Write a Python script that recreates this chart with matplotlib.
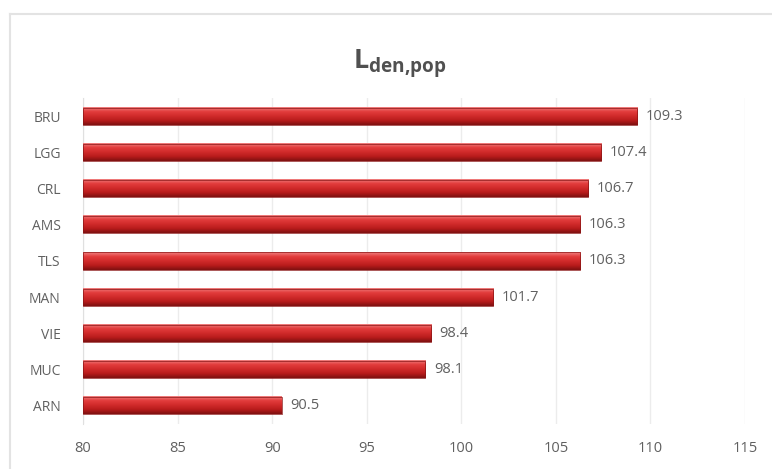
import matplotlib.pyplot as plt
import numpy as np
from matplotlib.colors import LinearSegmentedColormap
from matplotlib.patches import Rectangle

airports = ["BRU", "LGG", "CRL", "AMS", "TLS", "MAN", "VIE", "MUC", "ARN"]
values = [109.3, 107.4, 106.7, 106.3, 106.3, 101.7, 98.4, 98.1, 90.5]
xticks = [80, 85, 90, 95, 100, 105, 110, 115]

plt.rcParams["font.family"] = ["Open Sans", "DejaVu Sans"]
plt.rcParams["mathtext.fontset"] = "custom"
plt.rcParams["mathtext.bf"] = "Open Sans:bold"
text_gray = "#606060"

fig = plt.figure(figsize=(7.72, 4.69), dpi=100)
ax = fig.add_axes([0.1075, 0.096, 0.8575, 0.695])

# chart border (only top and left visible in the crop)
fig.add_artist(plt.Line2D([0.013, 1.0], [0.970, 0.970], transform=fig.transFigure,
                          color="#e3e3e3", lw=1.5))
fig.add_artist(plt.Line2D([0.013, 0.013], [0.0, 0.970], transform=fig.transFigure,
                          color="#e3e3e3", lw=1.5))

# vertical gradient for the cylinder look: light top, dark bottom
cmap = LinearSegmentedColormap.from_list(
    "bar", ["#f08080", "#e23c3c", "#d02a2a", "#b81c1c", "#7e1010"])
grad = np.linspace(0, 1, 64).reshape(-1, 1)

ypos = np.arange(len(airports))
h = 0.47
for y, v in zip(ypos, values):
    ax.imshow(grad, cmap=cmap, aspect="auto", extent=(80, v, y + h / 2, y - h / 2),
              interpolation="bilinear", zorder=3)
    ax.add_patch(Rectangle((80, y - h / 2), v - 80, h, fill=False,
                           edgecolor="#8a1515", lw=0.5, zorder=4))
    ax.text(v + 0.45, y, f"{v:.1f}", va="center", ha="left", fontsize=10.5,
            color=text_gray)

ax.set_xlim(80, 115)
ax.set_ylim(len(airports) - 0.5, -0.5)
ax.set_xticks(xticks)
ax.set_xticklabels([str(t) for t in xticks], fontsize=10.5, color=text_gray)
ax.set_yticks(ypos)
ax.set_yticklabels(airports, fontsize=10, color=text_gray)
ax.tick_params(length=0, pad=12)
ax.tick_params(axis="y", pad=16)
ax.grid(axis="x", color="#ececec", lw=1, zorder=0)
ax.set_axisbelow(True)
for s in ["top", "right", "bottom"]:
    ax.spines[s].set_visible(False)
ax.spines["left"].set_color("#e0e0e0")

fig.text(0.518, 0.862, r"$\mathbf{L}_{\mathbf{den{,}pop}}$", ha="center", va="center",
         fontsize=19.5, color="#505050")

fig.savefig("out.png", dpi=100)
